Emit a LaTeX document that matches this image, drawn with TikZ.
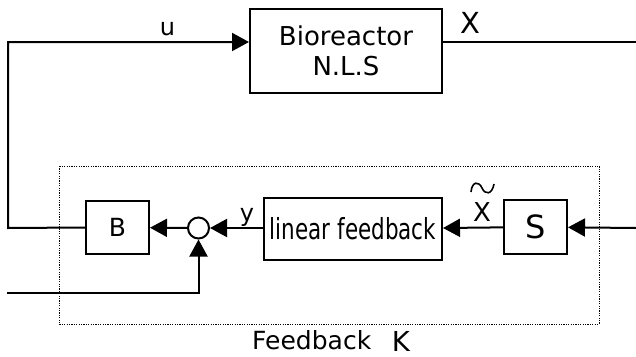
\documentclass[tikz,border=0pt]{standalone}
\usepackage{fontspec}
\setmainfont{DejaVu Sans}
\newfontfamily\condfont[FakeStretch=0.74]{DejaVu Sans}
\usetikzlibrary{arrows.meta}
\begin{document}
\begin{tikzpicture}[x=1pt,y=-1pt,
  tbig/.style={font=\fontsize{24}{32}\selectfont},
  blk/.style={draw,line width=2pt,inner sep=0pt,align=center},
  arr/.style={-{Triangle[length=17pt,width=18pt]}},
  wire/.style={line width=2pt}]
\useasboundingbox (0,0) rectangle (636,356);
\fill[white] (0,0) rectangle (636,356);
% frame of the feedback block
\draw[line width=0.9pt,dash pattern=on 1.2pt off 1.2pt] (59,166) rectangle (599,324);
% blocks
\node[blk,minimum width=192pt,minimum height=84pt,font=\fontsize{26}{32}\selectfont] (bio) at (346,51) {Bioreactor\\[-2pt]N.L.S};
\node[blk,minimum width=63pt,minimum height=53pt,font=\fontsize{25}{30}\selectfont] (B) at (117.5,227.5) {B};
\node[draw,circle,line width=2pt,minimum size=21pt,inner sep=0pt] (circ) at (198.5,228) {};
\node[blk,minimum width=178pt,minimum height=62pt,font=\condfont\fontsize{29}{30}\selectfont] (lf) at (353,229) {linear feedback};
\node[blk,minimum width=63pt,minimum height=54pt,font=\fontsize{32}{34}\selectfont] (S) at (535.5,227) {S};
% coordinates
\coordinate (uy) at (0,42);
\coordinate (lft) at (8,228);
\coordinate (rin) at (636,228);
\coordinate (bin) at (7,293);
\coordinate (xout) at (636,42);
% connectors
\draw[wire,arr] (B.west) -- (lft) |- (bio.west |- uy);
\draw[wire] (bio.east |- uy) -- (xout);
\draw[wire,arr] (rin) -- (S);
\draw[wire,arr] (S) -- (lf);
\draw[wire,arr] (lf.west |- circ) -- (circ);
\draw[wire,arr] (circ) -- (B);
\draw[wire,arr] (bin) -| (circ.south);
% labels
\node[tbig,anchor=base,inner sep=0pt] (lu) at (167.5,35) {u};
\node[font=\fontsize{29}{30}\selectfont,anchor=base,inner sep=0pt] (lx) at (470,33) {X};
\node[tbig,anchor=base,inner sep=0pt] (ly) at (247,221) {y};
\node[font=\fontsize{26}{30}\selectfont,anchor=base,inner sep=0pt] (lxt) at (482,221) {X};
\draw[line width=1.6pt] (471,192) .. controls (472,181) and (479,181) .. (482,188) .. controls (485,195) and (492,195) .. (494,184);
\node[anchor=base west,inner sep=0pt,font=\fontsize{25}{30}\selectfont] (lfb) at (252,349) {Feedback};
\node[anchor=base,inner sep=0pt,font=\fontsize{27.5}{30}\selectfont] (lk) at (401,351) {K};
\end{tikzpicture}
\end{document}
